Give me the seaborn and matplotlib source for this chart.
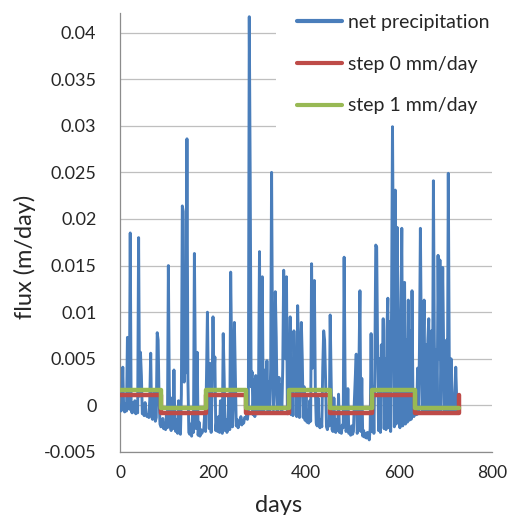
import numpy as np
import pandas as pd
import matplotlib
matplotlib.use("Agg")
import matplotlib.pyplot as plt
from matplotlib.patches import Rectangle
import seaborn as sns

# Daily net precipitation (mm/day), sampled every second day starting at day 0
net_precip_mm = [
    -0.3, -0.6, 0.4, 4.1, -0.5, -0.7, 0.2, -0.6, 7.3, 1.2, -0.4, 18.5, -0.5, -0.8, 0.3,
    -0.7, 0.5, -0.9, -0.5, -0.8, 18.0, 1.0, 5.7, 3.2, -0.9, -0.6, -1.1, 0.3, -0.9, -1.2,
    -1.0, -1.3, 0.6, 5.6, -1.2, -1.5, -0.4, 1.4, -1.7, -1.3, 7.8, 7.0, 0.8, -2.0, -2.3,
    -2.2, -1.4, -2.5, -2.0, -2.6, -0.8, -2.4, 15.0, 2.0, -2.1, -2.7, 0.8, -2.5, 3.8, -1.9,
    -2.8, -1.5, -3.0, 0.5, -2.6, -3.1, 1.2, 21.4, 20.8, 2.5, 6.0, 3.5, 28.6, 3.0, -2.9,
    -3.1, -2.0, -3.3, -1.0, -2.9, 16.3, 4.0, -2.5, 5.7, -3.2, -1.8, -3.3, -2.6, -3.0, -2.7,
    -2.6, -1.0, -2.8, 3.0, 10.0, 2.0, -2.5, 4.5, -2.9, 1.5, 9.5, 3.0, 5.2, -2.7, -1.5,
    -2.8, -1.2, -2.9, 0.5, -2.6, -3.0, 7.7, 3.0, -2.7, -1.5, -2.9, -2.4, 1.0, -2.6, 14.3,
    6.0, -2.3, 1.0, 8.9, 3.0, -2.2, -1.5, -2.4, -1.8, -2.0, -1.2, -2.1, -1.6, -1.9, -1.3,
    -1.4, -1.1, -1.5, -0.6, 41.7, 24.5, 2.0, 3.6, -1.0, 2.8, -1.2, 3.2, 0.5, -0.9, 2.5,
    16.5, -0.5, 4.5, 13.8, -0.6, 2.0, 3.8, -0.4, 4.8, -0.5, 2.5, -0.6, 4.0, 25.0, 6.0,
    -0.5, 2.0, 12.2, 7.3, -0.6, 1.5, 3.0, -0.4, 2.2, -0.8, 4.0, 14.5, 6.0, 5.0, 13.8,
    -0.9, 2.5, 4.0, 9.5, -1.0, 5.0, -1.1, 8.0, 2.0, 6.0, -1.2, 10.7, 6.0, -1.3, 5.0,
    8.9, 5.0, -1.3, 2.0, -1.6, 1.0, -1.8, -1.2, -1.9, 0.5, -1.7, 15.2, 4.0, 6.0, 13.4,
    2.0, -1.9, -2.2, 0.8, -2.0, -2.4, -1.5, -2.3, 4.0, 8.0, 7.0, 3.0, -2.3, -2.6, -1.8,
    -2.2, 9.7, 3.0, -2.6, -2.8, 0.8, -2.5, -2.9, -1.5, -2.7, 1.2, -2.9, -2.4, -3.0, -2.1,
    -2.4, 15.9, 3.0, -2.8, -2.5, 1.8, -3.0, -2.6, -3.2, -2.2, -3.1, -2.8, 0.5, 3.0, 5.5,
    -3.0, -2.6, 5.0, 12.3, -2.8, 2.9, -3.3, -2.7, -3.4, -3.0, -3.5, -2.9, -3.2, -3.7, -2.5,
    7.7, -2.8, 2.0, -3.0, 4.0, 17.2, 17.0, 6.0, -2.7, 5.0, -2.9, 6.5, 2.0, 9.3, -2.5,
    5.0, -2.6, 8.0, 11.5, -2.4, 9.0, -2.8, 10.5, 29.9, 14.0, -2.3, 23.1, -2.0, 19.1, 10.0,
    8.5, -2.4, 9.0, 19.0, -2.2, 9.5, 13.2, -2.0, 7.0, -1.8, 11.3, -1.6, 8.0, -1.5, 12.3,
    0.5, -1.2, -0.8, 0.3, -1.0, 4.0, -0.9, 6.0, 19.0, 7.0, -0.8, 5.0, 11.3, -0.7, 6.5,
    -0.7, 7.0, 9.3, -0.6, 5.0, 8.0, -0.8, 24.1, 7.0, -0.6, 6.0, -0.7, 16.1, 5.0, 15.6,
    -0.6, 6.0, 14.8, 6.0, -0.7, 4.0, 7.0, -0.5, 24.9, 5.5, -0.6, 5.0, 2.0, -0.6, 1.0,
    -0.5, 4.1, 0.8, -0.7, -0.4,
]
net_precip_days = list(range(0, 2 * len(net_precip_mm), 2))

# Seasonal step forcings (mm/day): day each level starts, and its value
step_days = [0, 89, 184, 271, 364, 452, 543, 634, 729]
step0_mm = [1.1, -0.8, 1.1, -0.8, 1.1, -0.8, 1.1, -0.8, 1.1]
step1_mm = [1.6, -0.3, 1.6, -0.3, 1.6, -0.3, 1.6, -0.3, -0.3]

series_labels = ["net precipitation", "step 0 mm/day", "step 1 mm/day"]
x_ticks = [0, 200, 400, 600, 800]
y_ticks = [-0.005, 0, 0.005, 0.01, 0.015, 0.02, 0.025, 0.03, 0.035, 0.04]
y_tick_labels = ["-0.005", "0", "0.005", "0.01", "0.015", "0.02", "0.025",
                 "0.03", "0.035", "0.04"]

precip = pd.DataFrame({"day": net_precip_days,
                       "flux": np.array(net_precip_mm) / 1000.0})
steps = pd.DataFrame({"day": step_days,
                      "step0": np.array(step0_mm) / 1000.0,
                      "step1": np.array(step1_mm) / 1000.0})

sns.set_style("white")
plt.rcParams["font.family"] = ["Lato", "DejaVu Sans"]

W, H = 516, 515
fig = plt.figure(figsize=(W / 100, H / 100), dpi=100)
ax = fig.add_axes([120 / W, 1 - 452 / H, 372 / W, 439 / H])

BLUE, RED, GREEN = "#4A7EBB", "#BE4B48", "#98B954"

sns.lineplot(data=precip, x="day", y="flux", ax=ax, color=BLUE, lw=2.1,
             label=series_labels[0], zorder=3)
sns.lineplot(data=steps, x="day", y="step0", ax=ax, color=RED, lw=3.2,
             drawstyle="steps-post", label=series_labels[1], zorder=4)
sns.lineplot(data=steps, x="day", y="step1", ax=ax, color=GREEN, lw=3.2,
             drawstyle="steps-post", label=series_labels[2], zorder=5)

ax.set_xlim(0, 800)
ax.set_ylim(-0.005, 0.0421)
ax.set_xticks(x_ticks)
ax.set_xticklabels([str(t) for t in x_ticks])
ax.set_yticks(y_ticks)
ax.set_yticklabels(y_tick_labels)

# horizontal gridlines only
ax.yaxis.grid(True, color="#BFBFBF", lw=0.9)
ax.xaxis.grid(False)
ax.set_axisbelow(True)

for side in ("top", "right"):
    ax.spines[side].set_visible(False)
for side in ("left", "bottom"):
    ax.spines[side].set_color("#8C8C8C")
    ax.spines[side].set_linewidth(0.9)

ax.tick_params(axis="both", direction="out", length=5, width=0.9,
               color="#8C8C8C", colors="#8C8C8C")
ax.tick_params(axis="y", labelsize=13, labelcolor="#262626", pad=12)
ax.tick_params(axis="x", labelsize=12.5, labelcolor="#262626", pad=4)

ax.set_xlabel("days", fontsize=17, color="#262626")
ax.set_ylabel("flux (m/day)", fontsize=17, color="#262626")
ax.xaxis.set_label_coords(0.426, -0.098)
ax.yaxis.set_label_coords(-0.225, 0.444)

# white panel behind the legend
ax.add_patch(Rectangle((336, 0.0292), 464, 0.02, facecolor="white",
                       edgecolor="none", zorder=1.5))

leg = ax.legend(loc="upper left", bbox_to_anchor=(297 / W, 1 - 14 / H),
                bbox_transform=fig.transFigure, frameon=False, fontsize=14,
                handlelength=2.3, handletextpad=0.3, labelspacing=1.27,
                borderpad=0, borderaxespad=0)
for line in leg.get_lines():
    line.set_linewidth(3.0)

fig.savefig("out.png", dpi=100)
